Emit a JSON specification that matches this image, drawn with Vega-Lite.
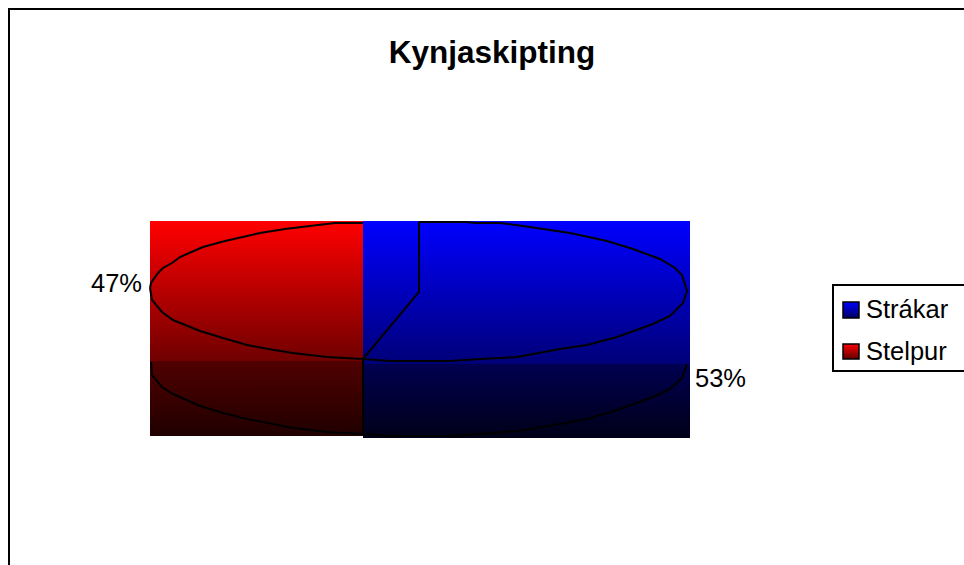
{
"$schema":"https://vega.github.io/schema/vega-lite/v6.json",
"width":964,"height":565,"padding":0,
"autosize":{"type":"none"},
"background":"white",
"config":{"view":{"stroke":null}},
"datasets":{
"slices":[
{"kyn":"Strákar","share":53,"label":"53%","x0":363,"x1":690,"y0":221,"y1":438,"lx":695,"ly":379},
{"kyn":"Stelpur","share":47,"label":"47%","x0":150,"x1":363,"y0":221,"y1":436,"lx":91,"ly":284}
],
"legend":[
{"kyn":"Strákar","x0":843,"x1":859,"y0":302,"y1":318,"tx":866,"ty":310},
{"kyn":"Stelpur","x0":843,"x1":859,"y0":344,"y1":359,"tx":866,"ty":352}
],
"lines":[
{"s":"top","o":1,"x":150,"y":288},{"s":"top","o":2,"x":151,"y":283},{"s":"top","o":3,"x":158,"y":273},{"s":"top","o":4,"x":163,"y":268},{"s":"top","o":5,"x":172,"y":263},{"s":"top","o":6,"x":180,"y":257},{"s":"top","o":7,"x":203,"y":247},{"s":"top","o":8,"x":225,"y":241},{"s":"top","o":9,"x":260,"y":233},{"s":"top","o":10,"x":285,"y":229},{"s":"top","o":11,"x":318,"y":225},{"s":"top","o":12,"x":335,"y":223},{"s":"top","o":13,"x":363,"y":223},
{"s":"top2","o":1,"x":419,"y":222},{"s":"top2","o":2,"x":467,"y":222},{"s":"top2","o":3,"x":475,"y":223},{"s":"top2","o":4,"x":500,"y":223},{"s":"top2","o":5,"x":530,"y":227},{"s":"top2","o":6,"x":570,"y":233},{"s":"top2","o":7,"x":607,"y":241},{"s":"top2","o":8,"x":633,"y":249},{"s":"top2","o":9,"x":660,"y":259},{"s":"top2","o":10,"x":675,"y":268},{"s":"top2","o":11,"x":682,"y":275},{"s":"top2","o":12,"x":687,"y":291},{"s":"top2","o":13,"x":683,"y":303},{"s":"top2","o":14,"x":670,"y":316},{"s":"top2","o":15,"x":653,"y":324},{"s":"top2","o":16,"x":617,"y":337},{"s":"top2","o":17,"x":587,"y":345},{"s":"top2","o":18,"x":560,"y":349},{"s":"top2","o":19,"x":517,"y":357},{"s":"top2","o":20,"x":480,"y":359},{"s":"top2","o":21,"x":450,"y":361},{"s":"top2","o":22,"x":390,"y":361},{"s":"top2","o":23,"x":363,"y":359},{"s":"top2","o":24,"x":327,"y":357},{"s":"top2","o":25,"x":293,"y":353},{"s":"top2","o":26,"x":268,"y":349},{"s":"top2","o":27,"x":247,"y":345},{"s":"top2","o":28,"x":223,"y":338},{"s":"top2","o":29,"x":200,"y":331},{"s":"top2","o":30,"x":173,"y":320},{"s":"top2","o":31,"x":162,"y":312},{"s":"top2","o":32,"x":152,"y":300},{"s":"top2","o":33,"x":150,"y":288},
{"s":"wedge","o":1,"x":363,"y":359},{"s":"wedge","o":2,"x":419,"y":292},{"s":"wedge","o":3,"x":419,"y":222},
{"s":"divider","o":1,"x":363,"y":359},{"s":"divider","o":2,"x":363,"y":434},
{"s":"bottom","o":1,"x":151,"y":362},{"s":"bottom","o":2,"x":152,"y":375},{"s":"bottom","o":3,"x":162,"y":387},{"s":"bottom","o":4,"x":173,"y":394},{"s":"bottom","o":5,"x":200,"y":406},{"s":"bottom","o":6,"x":223,"y":413},{"s":"bottom","o":7,"x":247,"y":419},{"s":"bottom","o":8,"x":268,"y":423},{"s":"bottom","o":9,"x":293,"y":428},{"s":"bottom","o":10,"x":327,"y":432},{"s":"bottom","o":11,"x":363,"y":434},{"s":"bottom","o":12,"x":390,"y":436},{"s":"bottom","o":13,"x":450,"y":436},{"s":"bottom","o":14,"x":480,"y":434},{"s":"bottom","o":15,"x":517,"y":431},{"s":"bottom","o":16,"x":560,"y":424},{"s":"bottom","o":17,"x":587,"y":419},{"s":"bottom","o":18,"x":617,"y":410},{"s":"bottom","o":19,"x":653,"y":397},{"s":"bottom","o":20,"x":670,"y":389},{"s":"bottom","o":21,"x":682,"y":378},{"s":"bottom","o":22,"x":687,"y":364}
],
"frames":[
{"s":"outer","o":1,"x":9,"y":565},{"s":"outer","o":2,"x":9,"y":9},{"s":"outer","o":3,"x":964,"y":9},
{"s":"legendbox","o":1,"x":964,"y":285},{"s":"legendbox","o":2,"x":833,"y":285},{"s":"legendbox","o":3,"x":833,"y":371},{"s":"legendbox","o":4,"x":964,"y":371}
],
"title":[{"text":"Kynjaskipting","x":492,"y":54}]
},
"encoding":{
"x":{"field":"x","type":"quantitative","axis":null,"scale":{"domain":[0,964],"nice":false,"zero":false}},
"y":{"field":"y","type":"quantitative","axis":null,"scale":{"domain":[565,0],"nice":false,"zero":false}}
},
"layer":[
{"data":{"name":"slices"},"transform":[{"filter":"datum.kyn==='Stelpur'"}],
"mark":{"type":"rect","color":{"gradient":"linear","x1":0,"y1":0,"x2":0,"y2":1,"stops":[{"offset":0,"color":"#ff0000"},{"offset":0.65,"color":"#700000"},{"offset":0.65,"color":"#500000"},{"offset":1,"color":"#200000"}]}},
"encoding":{"x":{"field":"x0","type":"quantitative"},"x2":{"field":"x1"},"y":{"field":"y0","type":"quantitative"},"y2":{"field":"y1"}}},
{"data":{"name":"slices"},"transform":[{"filter":"datum.kyn==='Strákar'"}],
"mark":{"type":"rect","color":{"gradient":"linear","x1":0,"y1":0,"x2":0,"y2":1,"stops":[{"offset":0,"color":"#0000ff"},{"offset":0.66,"color":"#000078"},{"offset":0.66,"color":"#000050"},{"offset":1,"color":"#000018"}]}},
"encoding":{"x":{"field":"x0","type":"quantitative"},"x2":{"field":"x1"},"y":{"field":"y0","type":"quantitative"},"y2":{"field":"y1"}}},
{"data":{"name":"lines"},"mark":{"type":"line","color":"#000000","strokeWidth":2,"interpolate":"linear"},
"encoding":{"detail":{"field":"s"},"order":{"field":"o","type":"quantitative"}}},
{"data":{"name":"frames"},"mark":{"type":"line","color":"#000000","strokeWidth":2,"interpolate":"linear"},
"encoding":{"detail":{"field":"s"},"order":{"field":"o","type":"quantitative"}}},
{"data":{"name":"legend"},"transform":[{"filter":"datum.kyn==='Strákar'"}],
"mark":{"type":"rect","strokeWidth":1.5,"color":{"gradient":"linear","x1":0,"y1":0,"x2":0,"y2":1,"stops":[{"offset":0,"color":"#0000ff"},{"offset":1,"color":"#000060"}]},"stroke":"#000000"},
"encoding":{"x":{"field":"x0","type":"quantitative"},"x2":{"field":"x1"},"y":{"field":"y0","type":"quantitative"},"y2":{"field":"y1"}}},
{"data":{"name":"legend"},"transform":[{"filter":"datum.kyn==='Stelpur'"}],
"mark":{"type":"rect","strokeWidth":1.5,"color":{"gradient":"linear","x1":0,"y1":0,"x2":0,"y2":1,"stops":[{"offset":0,"color":"#ff0000"},{"offset":1,"color":"#600000"}]},"stroke":"#000000"},
"encoding":{"x":{"field":"x0","type":"quantitative"},"x2":{"field":"x1"},"y":{"field":"y0","type":"quantitative"},"y2":{"field":"y1"}}},
{"data":{"name":"legend"},
"mark":{"type":"text","font":"Liberation Sans","fontSize":25.5,"align":"left","baseline":"middle","color":"#000000"},
"encoding":{"x":{"field":"tx","type":"quantitative"},"y":{"field":"ty","type":"quantitative"},"text":{"field":"kyn"}}},
{"data":{"name":"slices"},
"mark":{"type":"text","font":"Liberation Sans","fontSize":25.5,"align":"left","baseline":"middle","color":"#000000"},
"encoding":{"x":{"field":"lx","type":"quantitative"},"y":{"field":"ly","type":"quantitative"},"text":{"field":"label"}}},
{"data":{"name":"title"},
"mark":{"type":"text","font":"Liberation Sans","fontSize":31.5,"fontWeight":"bold","align":"center","baseline":"middle","color":"#000000"},
"encoding":{"text":{"field":"text"}}}
]
}
